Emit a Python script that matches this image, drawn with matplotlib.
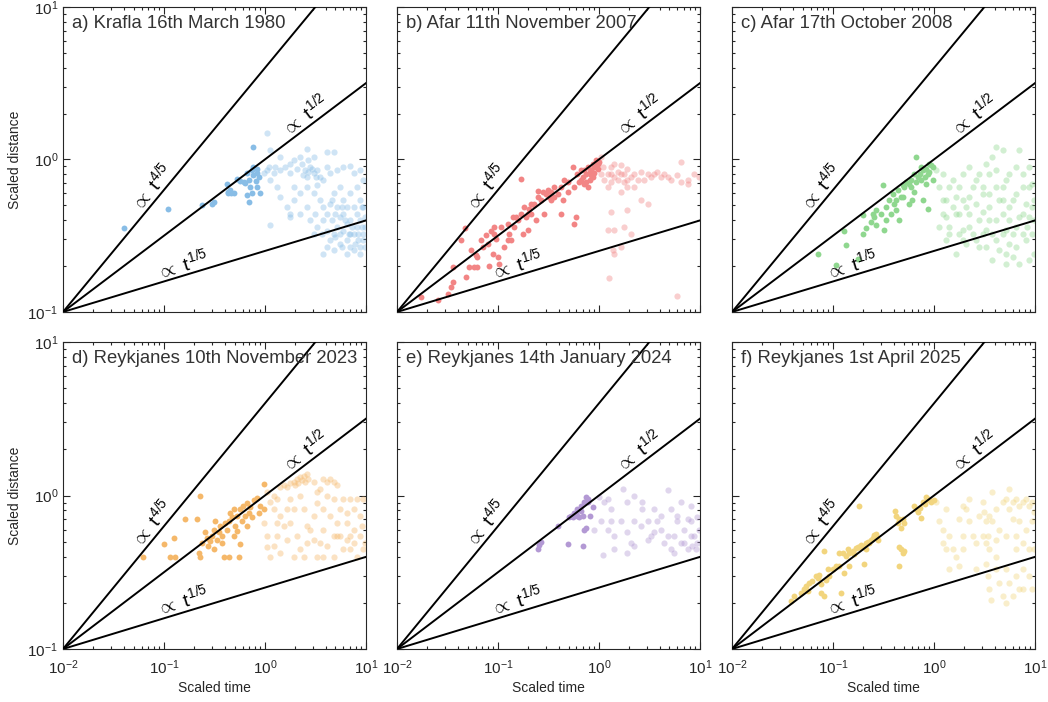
import math

import matplotlib
matplotlib.use("Agg")
import matplotlib.pyplot as plt
from matplotlib.ticker import LogLocator, NullFormatter

plt.rcParams["font.family"] = ["Liberation Sans", "DejaVu Sans"]
plt.rcParams["mathtext.fontset"] = "custom"
plt.rcParams["mathtext.rm"] = "Liberation Sans"
plt.rcParams["mathtext.it"] = "Liberation Sans"
plt.rcParams["mathtext.bf"] = "Liberation Sans:bold"

TEXT = "#262626"

# Reference scaling laws: d = 0.1 * (t / 0.01) ** p
EXPONENTS = [4 / 5, 1 / 2, 1 / 5]
EXP_LABELS = ["4/5", "1/2", "1/5"]
LABEL_T = [0.092, 2.9, 0.165]

TITLES = [
    "a) Krafla 16th March 1980",
    "b) Afar 11th November 2007",
    "c) Afar 17th October 2008",
    "d) Reykjanes 10th November 2023",
    "e) Reykjanes 14th January 2024",
    "f) Reykjanes 1st April 2025",
]
COLORS = ["#88BDE6", "#F28585", "#8FD78F", "#F5B86A", "#B399D4", "#F2D57E"]

# (scaled time, scaled distance)
a_dark = [(0.040, 0.355), (0.110, 0.475), (0.24, 0.50), (0.30, 0.51), (0.31, 0.525),
          (0.42, 0.695), (0.43, 0.61), (0.45, 0.63), (0.465, 0.60), (0.53, 0.75),
          (0.57, 0.72), (0.62, 0.71), (0.64, 0.70), (0.66, 0.81), (0.69, 0.73),
          (0.72, 0.66), (0.74, 0.85), (0.77, 0.79), (0.81, 0.72), (0.84, 0.87),
          (0.84, 0.81), (0.87, 0.77), (0.74, 0.60), (0.89, 0.60), (0.69, 0.53),
          (0.76, 1.20), (0.49, 0.60), (0.43, 0.60), (0.66, 0.585), (0.83, 0.66),
          (0.77, 0.89)]
a_light = [(1.05, 1.48), (1.13, 1.15), (1.42, 1.04), (1.78, 0.94), (1.92, 0.99),
           (2.24, 1.04), (2.61, 1.17), (2.5, 0.85), (2.8, 0.89), (3.03, 0.81),
           (3.3, 0.85), (3.53, 0.77), (3.8, 0.73), (4.11, 1.12), (4.79, 1.12),
           (4.11, 0.89), (4.4, 0.81), (5.2, 0.85), (6.0, 0.89), (7.0, 0.91),
           (7.55, 0.81), (8.8, 0.85), (9.4, 0.73), (1.05, 0.85), (1.22, 0.81),
           (1.13, 0.73), (1.32, 0.66), (1.42, 0.57), (1.65, 0.49), (1.78, 0.42),
           (1.92, 0.66), (2.24, 0.60), (1.92, 0.54), (2.61, 0.66), (3.03, 0.60),
           (3.53, 0.54), (3.8, 0.49), (4.11, 0.44), (4.4, 0.51), (4.79, 0.60),
           (5.57, 0.66), (6.0, 0.54), (6.5, 0.49), (7.0, 0.60), (8.1, 0.66),
           (8.8, 0.54), (9.4, 0.49), (1.13, 0.37), (1.78, 0.44), (2.24, 0.44),
           (2.61, 0.49), (3.8, 0.40), (4.11, 0.34), (4.4, 0.295), (4.79, 0.326),
           (5.2, 0.36), (5.57, 0.42), (6.0, 0.34), (6.5, 0.295), (7.0, 0.267),
           (7.55, 0.326), (8.1, 0.36), (8.8, 0.40), (9.4, 0.326), (9.8, 0.267),
           (4.11, 0.267), (4.79, 0.254), (5.57, 0.28), (6.5, 0.241), (7.55, 0.254),
           (8.8, 0.267), (9.4, 0.295), (5.2, 0.49), (6.0, 0.44), (7.0, 0.40),
           (8.1, 0.44), (9.1, 0.49), (3.8, 0.241), (5.57, 0.326), (7.0, 0.326),
           (8.4, 0.295), (7.55, 0.49), (6.5, 0.38), (4.6, 0.40), (3.65, 0.326),
           (3.15, 0.44), (3.3, 0.36), (2.8, 0.40), (3.03, 0.326), (8.8, 0.241),
           (9.8, 0.36), (9.8, 0.42), (0.97, 0.81), (1.09, 0.89), (1.27, 0.89),
           (1.42, 0.85), (1.59, 0.89), (1.78, 0.81), (2.07, 0.87), (2.33, 0.94),
           (2.7, 0.99), (3.03, 1.04), (2.61, 0.77), (3.3, 0.68), (2.7, 0.83),
           (2.9, 0.87), (2.4, 0.79), (3.2, 0.77), (4.6, 0.54), (5.0, 0.44),
           (5.8, 0.49), (6.2, 0.40), (7.3, 0.36), (8.4, 0.326), (9.1, 0.36),
           (7.8, 0.28), (6.8, 0.326), (5.0, 0.31), (5.8, 0.267)]

b_dark = [(0.0173, 0.125), (0.0253, 0.119), (0.0318, 0.132), (0.0357, 0.157),
          (0.0357, 0.197), (0.048, 0.17), (0.054, 0.256), (0.061, 0.236),
          (0.0625, 0.197), (0.047, 0.356), (0.068, 0.295), (0.071, 0.267),
          (0.076, 0.318), (0.079, 0.28), (0.086, 0.34), (0.089, 0.241),
          (0.092, 0.326), (0.096, 0.30), (0.10, 0.23), (0.103, 0.207),
          (0.107, 0.361), (0.116, 0.267), (0.125, 0.38), (0.13, 0.326),
          (0.135, 0.295), (0.14, 0.42), (0.145, 0.361), (0.157, 0.40),
          (0.169, 0.442), (0.176, 0.326), (0.183, 0.488), (0.19, 0.42),
          (0.197, 0.343), (0.205, 0.475), (0.213, 0.442), (0.229, 0.514),
          (0.24, 0.40), (0.248, 0.568), (0.267, 0.54), (0.278, 0.61),
          (0.284, 0.442), (0.31, 0.63), (0.32, 0.568), (0.335, 0.54),
          (0.361, 0.66), (0.39, 0.597), (0.421, 0.66), (0.44, 0.54),
          (0.455, 0.73), (0.49, 0.71), (0.49, 0.61), (0.55, 0.893),
          (0.57, 0.66), (0.59, 0.42), (0.57, 0.38), (0.61, 0.807),
          (0.64, 0.71), (0.664, 0.85), (0.69, 0.77), (0.72, 0.695),
          (0.74, 0.807), (0.773, 0.893), (0.81, 0.73), (0.84, 0.85),
          (0.87, 0.94), (0.90, 0.893), (0.935, 0.99), (0.97, 0.87),
          (1.0, 0.96), (0.169, 0.75), (0.229, 0.50), (0.052, 0.197),
          (0.0625, 0.23), (0.0431, 0.295), (0.0344, 0.146), (0.0583, 0.197),
          (0.082, 0.20), (0.421, 0.442), (0.125, 0.295), (0.74, 0.71),
          (0.84, 0.79), (0.90, 0.81), (0.935, 0.893), (0.87, 0.77),
          (0.773, 0.66), (0.664, 0.73), (0.97, 0.94), (0.72, 0.85),
          (0.81, 0.83), (0.248, 0.62), (0.30, 0.597), (0.335, 0.61),
          (0.197, 0.442), (0.213, 0.514), (0.361, 0.568), (0.15, 0.42),
          (0.092, 0.361)]
b_light = [(1.05, 1.04), (1.09, 0.893), (1.13, 0.73), (1.22, 0.807), (1.32, 0.893),
           (1.42, 0.94), (1.53, 0.83), (1.65, 0.915), (1.78, 0.807), (1.92, 0.87),
           (2.07, 0.77), (2.24, 0.807), (2.42, 0.73), (2.61, 0.83), (2.8, 0.73),
           (3.03, 0.807), (3.53, 0.807), (4.11, 0.77), (4.79, 0.77), (6.0, 0.79),
           (6.5, 0.96), (7.55, 0.73), (8.8, 0.807), (9.8, 0.77), (1.32, 0.715),
           (1.53, 0.73), (1.78, 0.715), (1.92, 0.66), (1.65, 0.61), (2.24, 0.66),
           (2.61, 0.54), (3.03, 0.514), (1.32, 0.453), (1.22, 0.343), (1.42, 0.343),
           (1.78, 0.361), (1.92, 0.464), (2.07, 0.326), (1.65, 0.267), (1.42, 0.241),
           (1.27, 0.166), (6.0, 0.128), (7.55, 0.695), (6.5, 0.715), (1.32, 0.807),
           (1.42, 0.77), (1.92, 0.73), (1.05, 0.807), (1.22, 0.66), (1.65, 0.807),
           (3.3, 0.77), (3.8, 0.83), (4.4, 0.807), (5.2, 0.73), (1.37, 0.254)]

c_dark = [(0.0705, 0.24), (0.107, 0.203), (0.135, 0.274), (0.13, 0.34), (0.176, 0.223),
          (0.197, 0.432), (0.213, 0.356), (0.24, 0.39), (0.248, 0.442), (0.257, 0.42),
          (0.267, 0.37), (0.31, 0.677), (0.32, 0.343), (0.335, 0.488), (0.361, 0.54),
          (0.375, 0.442), (0.39, 0.597), (0.405, 0.514), (0.421, 0.54), (0.44, 0.63),
          (0.455, 0.40), (0.47, 0.568), (0.49, 0.677), (0.51, 0.66), (0.53, 0.715),
          (0.57, 0.695), (0.59, 0.66), (0.61, 0.54), (0.64, 0.61), (0.664, 1.04),
          (0.664, 0.715), (0.69, 0.77), (0.72, 0.807), (0.74, 0.73), (0.773, 0.85),
          (0.81, 0.77), (0.84, 0.87), (0.87, 0.807), (0.90, 0.83), (0.935, 0.915),
          (0.97, 0.893), (0.773, 0.54), (0.87, 0.475), (0.97, 0.73), (0.84, 0.695),
          (0.59, 0.73), (0.90, 0.94), (0.74, 0.893), (0.64, 0.807), (0.267, 0.465),
          (0.30, 0.442), (0.335, 0.40), (0.421, 0.465), (0.49, 0.568), (0.57, 0.514),
          (0.197, 0.326)]
c_light = [(1.05, 0.85), (1.13, 0.66), (1.22, 0.54), (1.32, 0.42), (1.42, 0.326),
           (1.53, 0.73), (1.65, 0.568), (1.78, 0.442), (1.92, 0.343), (2.07, 0.28),
           (2.24, 0.893), (2.42, 0.66), (2.61, 0.514), (2.8, 0.399), (3.03, 0.326),
           (3.3, 0.267), (3.53, 0.807), (3.8, 1.04), (4.11, 0.66), (4.4, 0.54),
           (4.79, 0.442), (5.2, 0.343), (5.57, 0.28), (6.0, 0.23), (6.5, 0.893),
           (7.0, 1.15), (7.55, 0.66), (8.1, 0.514), (8.8, 0.42), (9.4, 0.326),
           (9.8, 0.241), (1.22, 0.807), (1.42, 0.66), (1.65, 0.442), (1.92, 0.54),
           (2.24, 0.442), (2.61, 0.73), (3.03, 0.597), (3.53, 0.488), (4.11, 0.399),
           (4.79, 0.326), (5.57, 0.807), (6.5, 0.597), (7.55, 0.442), (8.8, 0.66),
           (9.4, 0.488), (1.13, 0.361), (1.32, 0.295), (1.65, 0.241), (1.92, 0.295),
           (2.42, 0.326), (2.8, 0.267), (3.3, 0.343), (3.8, 0.326), (4.4, 0.254),
           (5.2, 0.207), (6.5, 0.267), (7.55, 0.326), (8.8, 0.218), (7.0, 0.207),
           (4.79, 0.54), (5.57, 0.488), (6.5, 0.361), (8.1, 0.295), (3.03, 0.453),
           (2.24, 0.568), (1.92, 0.807), (1.78, 0.66), (2.8, 0.807), (3.3, 0.94),
           (4.11, 0.85), (4.79, 1.15), (5.2, 0.73), (6.0, 0.54), (7.55, 0.807),
           (8.8, 0.893), (9.4, 0.695), (1.32, 0.54), (1.53, 0.488), (1.42, 0.361),
           (2.24, 0.361), (2.61, 0.295), (4.11, 0.295), (6.0, 0.326), (7.0, 0.42),
           (8.4, 0.361), (3.53, 0.597), (3.03, 0.66), (4.79, 0.66), (2.07, 0.488),
           (1.22, 0.442), (1.78, 0.326), (9.8, 0.54), (9.8, 0.399), (4.11, 1.21),
           (3.8, 0.218), (5.57, 0.399), (3.53, 0.399), (5.2, 0.241)]

d_dark = [(0.0625, 0.397), (0.116, 0.397), (0.13, 0.40), (0.125, 0.525), (0.10, 0.485),
          (0.163, 0.70), (0.213, 0.70), (0.229, 1.0), (0.22, 0.42), (0.229, 0.397),
          (0.24, 0.49), (0.257, 0.58), (0.267, 0.53), (0.284, 0.505), (0.30, 0.545),
          (0.31, 0.60), (0.32, 0.68), (0.335, 0.515), (0.35, 0.575), (0.361, 0.63),
          (0.375, 0.545), (0.39, 0.397), (0.405, 0.665), (0.421, 0.60), (0.44, 0.68),
          (0.455, 0.77), (0.47, 0.72), (0.49, 0.815), (0.51, 0.63), (0.53, 0.735),
          (0.55, 0.40), (0.57, 0.48), (0.57, 0.815), (0.59, 0.68), (0.61, 0.86),
          (0.64, 0.735), (0.664, 0.90), (0.69, 0.77), (0.72, 0.84), (0.74, 0.72),
          (0.773, 0.93), (0.84, 0.96), (0.90, 0.86), (0.97, 0.815), (0.99, 1.18),
          (0.87, 0.77), (0.44, 0.397), (0.375, 0.49), (0.31, 0.445), (0.275, 0.47),
          (0.49, 0.545), (0.664, 0.63), (0.53, 0.59)]
d_light = [(1.92, 1.23), (2.07, 1.29), (2.24, 1.32), (2.42, 1.35), (2.61, 1.39),
           (2.5, 1.23), (2.15, 1.2), (2.33, 1.26), (2.7, 1.29), (2.0, 1.17),
           (1.78, 1.2), (1.65, 1.14), (1.53, 1.17), (1.42, 1.14), (1.05, 1.06),
           (1.13, 0.91), (1.22, 0.815), (1.32, 0.955), (1.42, 0.735), (1.53, 0.63),
           (1.32, 0.545), (1.22, 0.47), (1.05, 0.46), (1.13, 0.40), (1.42, 0.425),
           (1.65, 0.515), (1.78, 0.665), (1.92, 0.815), (2.07, 0.545), (2.24, 0.445),
           (2.42, 0.40), (2.61, 0.49), (2.8, 0.60), (3.03, 0.735), (3.3, 0.90),
           (3.53, 1.1), (3.8, 1.29), (4.11, 1.23), (4.4, 1.29), (4.79, 1.23),
           (5.2, 1.17), (3.03, 1.23), (3.3, 1.06), (4.11, 1.0), (4.79, 0.955),
           (4.4, 0.735), (3.8, 0.60), (3.53, 0.49), (3.3, 0.40), (3.8, 0.40),
           (4.11, 0.47), (4.79, 0.545), (5.2, 0.665), (5.57, 0.815), (6.0, 0.955),
           (7.0, 0.955), (8.1, 0.955), (9.4, 0.955), (6.5, 0.665), (7.55, 0.60),
           (8.8, 0.545), (9.8, 0.49), (5.57, 0.545), (6.0, 0.445), (7.0, 0.445),
           (8.1, 0.40), (9.4, 0.445), (6.5, 0.515), (7.55, 0.49), (6.5, 0.77),
           (8.8, 0.735), (2.42, 0.815), (2.24, 1.0), (1.78, 0.955), (1.32, 0.665),
           (1.92, 0.40), (3.03, 0.515), (4.79, 0.40), (1.22, 1.0), (1.65, 0.815),
           (2.61, 0.63), (3.8, 0.815), (5.2, 0.545), (7.55, 0.815), (9.1, 0.63),
           (7.0, 0.545), (0.97, 0.665), (1.05, 0.545)]

e_dark = [(0.248, 0.45), (0.257, 0.475), (0.267, 0.50), (0.39, 0.63), (0.49, 0.48),
          (0.51, 0.72), (0.53, 0.735), (0.57, 0.77), (0.59, 0.755), (0.61, 0.815),
          (0.64, 0.72), (0.664, 0.79), (0.69, 0.735), (0.72, 0.91), (0.74, 0.98),
          (0.773, 0.955), (0.81, 0.735), (0.74, 0.615), (0.72, 0.60), (0.69, 0.47),
          (0.87, 0.84), (0.773, 0.91), (0.664, 0.86), (0.61, 0.735), (0.55, 0.72)]
e_light = [(1.0, 0.98), (1.13, 0.91), (1.22, 0.955), (1.32, 0.815), (1.72, 1.1),
           (1.92, 0.91), (2.24, 1.0), (2.7, 0.91), (2.7, 0.815), (3.53, 0.815),
           (4.79, 1.08), (6.5, 0.91), (8.1, 0.86), (9.4, 0.72), (1.05, 0.68),
           (1.22, 0.60), (1.32, 0.68), (1.42, 0.545), (1.65, 0.68), (1.92, 0.575),
           (2.07, 0.49), (2.24, 0.47), (2.61, 0.63), (3.03, 0.68), (3.53, 0.575),
           (3.8, 0.68), (4.11, 0.60), (4.4, 0.49), (4.79, 0.545), (5.2, 0.445),
           (5.57, 0.545), (6.0, 0.68), (6.5, 0.49), (7.0, 0.60), (7.55, 0.445),
           (8.1, 0.68), (8.8, 0.545), (9.4, 0.49), (9.8, 0.60), (1.09, 0.41),
           (1.42, 0.445), (1.92, 0.425), (3.3, 0.545), (4.11, 0.735), (5.2, 0.815),
           (6.0, 0.735), (7.0, 0.49), (8.1, 0.545), (9.1, 0.445), (7.55, 0.70),
           (0.90, 0.60), (2.24, 0.68), (3.03, 0.515), (5.57, 0.425), (8.4, 0.47)]

f_dark = [(0.0385, 0.206), (0.0415, 0.222), (0.048, 0.233), (0.052, 0.245),
          (0.054, 0.256), (0.056, 0.238), (0.058, 0.27), (0.0625, 0.276),
          (0.068, 0.298), (0.071, 0.29), (0.073, 0.305), (0.076, 0.265),
          (0.082, 0.222), (0.076, 0.233), (0.086, 0.28), (0.089, 0.33),
          (0.092, 0.298), (0.10, 0.33), (0.107, 0.346), (0.116, 0.346),
          (0.12, 0.233), (0.13, 0.315), (0.125, 0.425), (0.135, 0.405),
          (0.14, 0.445), (0.145, 0.425), (0.157, 0.435), (0.163, 0.415),
          (0.169, 0.455), (0.176, 0.465), (0.183, 0.465), (0.19, 0.475),
          (0.197, 0.465), (0.213, 0.445), (0.205, 0.356), (0.213, 0.49),
          (0.22, 0.50), (0.229, 0.49), (0.24, 0.515), (0.248, 0.525),
          (0.257, 0.55), (0.267, 0.535), (0.278, 0.515), (0.183, 0.86),
          (0.415, 0.79), (0.421, 0.735), (0.44, 0.665), (0.455, 0.70),
          (0.47, 0.615), (0.49, 0.70), (0.51, 0.665), (0.455, 0.465),
          (0.47, 0.445), (0.49, 0.425), (0.51, 0.435), (0.455, 0.346),
          (0.64, 0.86), (0.664, 0.815), (0.69, 0.775), (0.72, 0.835),
          (0.74, 0.715), (0.773, 0.91), (0.81, 0.885), (0.84, 0.98),
          (0.87, 0.955), (0.90, 0.93), (0.935, 0.91), (1.0, 0.93),
          (0.082, 0.435), (0.116, 0.425), (0.145, 0.346), (0.267, 0.565)]
f_light = [(1.05, 0.91), (1.13, 0.68), (1.22, 0.60), (1.32, 0.815), (1.42, 0.545),
           (1.53, 0.445), (1.65, 0.40), (1.78, 0.346), (1.92, 0.86), (2.07, 0.815),
           (2.24, 0.68), (2.42, 0.545), (2.61, 0.49), (2.8, 0.735), (3.03, 0.91),
           (3.3, 0.68), (3.4, 0.545), (3.53, 0.445), (3.3, 0.36), (3.4, 0.298),
           (3.53, 0.245), (3.65, 0.21), (3.03, 0.545), (3.8, 0.68), (4.11, 0.515),
           (4.11, 0.33), (4.4, 0.27), (4.79, 0.222), (5.2, 0.20), (4.79, 0.91),
           (5.2, 0.955), (5.57, 0.815), (6.0, 0.91), (6.5, 0.955), (7.0, 0.86),
           (7.55, 0.91), (8.1, 0.955), (8.8, 0.86), (9.4, 0.91), (9.8, 0.775),
           (6.0, 0.70), (7.0, 0.68), (8.1, 0.60), (9.4, 0.68), (6.5, 0.445),
           (7.55, 0.49), (8.8, 0.445), (9.8, 0.445), (5.2, 0.33), (5.57, 0.27),
           (6.5, 0.298), (7.55, 0.33), (8.8, 0.298), (9.4, 0.245), (6.0, 0.222),
           (7.0, 0.245), (5.57, 1.1), (3.8, 1.06), (2.24, 0.955), (1.78, 0.70),
           (1.32, 0.445), (1.42, 0.33), (1.92, 0.445), (2.61, 0.33), (3.53, 0.735),
           (4.11, 0.815), (4.4, 0.60), (5.2, 0.545), (6.5, 0.545), (7.55, 0.245),
           (4.11, 0.40), (3.3, 0.49), (3.15, 0.775), (1.92, 0.545), (1.22, 0.49)]

DARK = [a_dark, b_dark, c_dark, d_dark, e_dark, f_dark]
LIGHT = [a_light, b_light, c_light, d_light, e_light, f_light]

fig = plt.figure(figsize=(10.48, 7.02), dpi=100)
lefts = [0.0601, 0.3788, 0.6985]
rows = [(0.5556, 0.4345), (0.0755, 0.4373)]

for i in range(6):
    r, c = divmod(i, 3)
    bottom, height = rows[r]
    ax = fig.add_axes([lefts[c], bottom, 0.289, height])
    ax.set_xscale("log")
    ax.set_yscale("log")
    ax.set_xlim(1e-2, 1e1)
    ax.set_ylim(1e-1, 1e1)

    lt, ld = zip(*LIGHT[i])
    ax.scatter(lt, ld, s=20, color=COLORS[i], alpha=0.4, linewidths=0, zorder=2)
    dt, dd = zip(*DARK[i])
    ax.scatter(dt, dd, s=18, color=COLORS[i], alpha=1.0, linewidths=0, zorder=3)

    # scaling lines and their labels
    for p, lab, tl in zip(EXPONENTS, EXP_LABELS, LABEL_T):
        ts = [1e-2, 1e1]
        ax.plot(ts, [0.1 * (t / 1e-2) ** p for t in ts], color="black", lw=1.4, zorder=4)
        d0 = 0.1 * (tl / 1e-2) ** p
        x0, y0 = ax.transData.transform((tl, d0))
        x1, y1 = ax.transData.transform((tl * 2, d0 * 2 ** p))
        ang = math.degrees(math.atan2(y1 - y0, x1 - x0))
        ax.text(tl, d0, r"$\propto\ t^{%s}$" % lab, rotation=ang, rotation_mode="anchor",
                ha="center", va="bottom", fontsize=14, color="black", zorder=5)

    ax.text(0.03, 0.975, TITLES[i], transform=ax.transAxes, ha="left", va="top",
            fontsize=13.3, color="#333333", zorder=6)

    ax.xaxis.set_major_locator(LogLocator(base=10, numticks=10))
    ax.xaxis.set_minor_locator(LogLocator(base=10, subs=range(2, 10), numticks=20))
    ax.yaxis.set_major_locator(LogLocator(base=10, numticks=10))
    ax.yaxis.set_minor_locator(LogLocator(base=10, subs=range(2, 10), numticks=20))
    ax.xaxis.set_minor_formatter(NullFormatter())
    ax.yaxis.set_minor_formatter(NullFormatter())
    ax.tick_params(which="both", direction="in", top=True, right=True,
                   colors=TEXT, labelsize=11, width=0.8)
    ax.tick_params(which="major", length=5)
    ax.tick_params(which="minor", length=2.5)
    ax.tick_params(axis="x", pad=7)
    for spine in ax.spines.values():
        spine.set_color(TEXT)
        spine.set_linewidth(0.8)

    if r == 0:
        ax.tick_params(labelbottom=False)
    else:
        ax.set_xlabel("Scaled time", fontsize=10, color=TEXT, labelpad=3)
    if c != 0:
        ax.tick_params(labelleft=False)
    else:
        ax.set_ylabel("Scaled distance", fontsize=10, color=TEXT, labelpad=4)

fig.savefig("out.png", dpi=100)
